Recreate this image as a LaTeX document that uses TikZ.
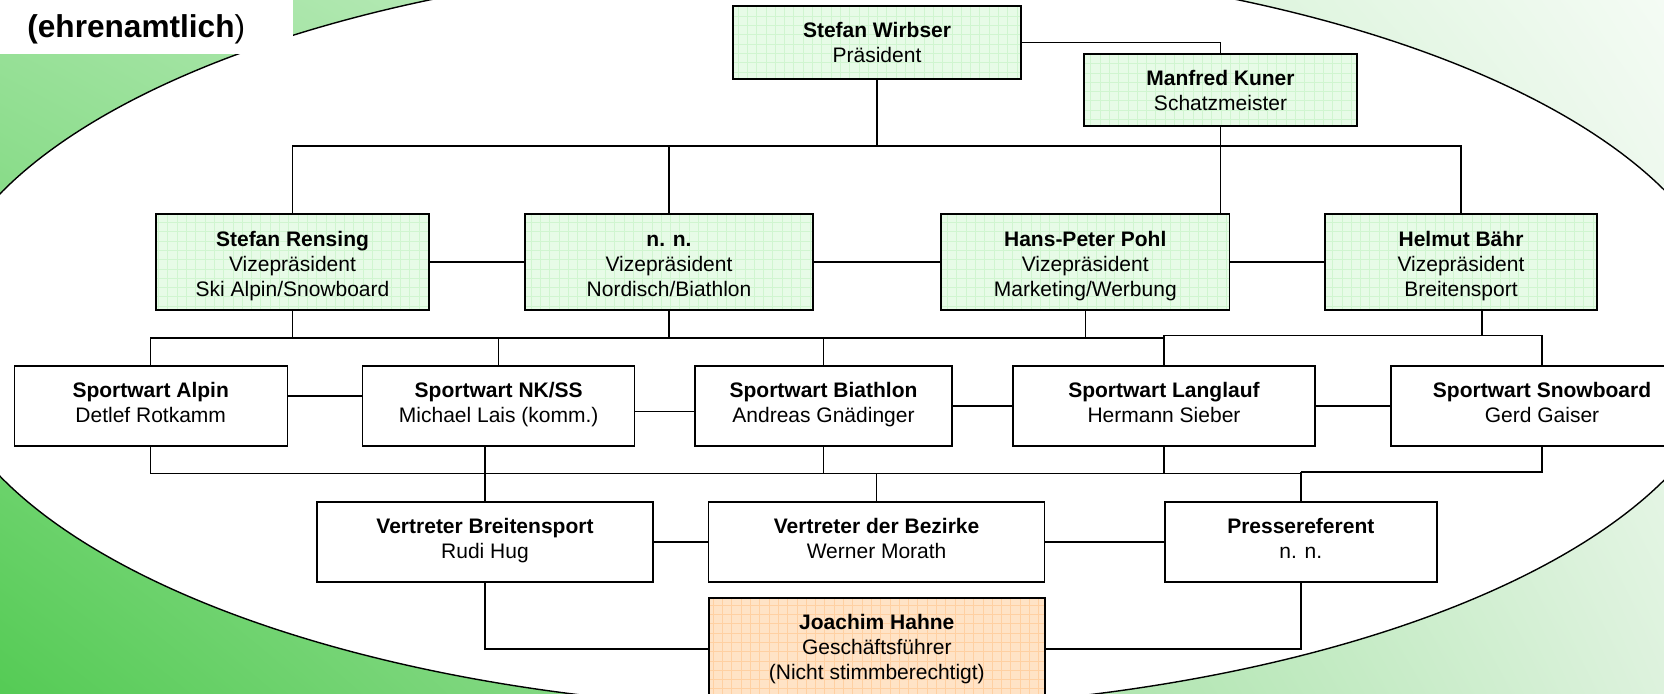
\documentclass[tikz,border=0pt]{standalone}
\usepackage{fontspec}
\setmainfont{Liberation Sans}
\usetikzlibrary{shadings}
\definecolor{boxgreen}{HTML}{E7FBE7}
\definecolor{gridgreen}{HTML}{D0F5D0}
\definecolor{boxorange}{HTML}{FFE3C6}
\definecolor{gridorange}{HTML}{FFD0A2}
\definecolor{bgdark}{HTML}{55CB55}
\definecolor{bgmid}{HTML}{9CE29C}
\definecolor{bglight}{HTML}{F4FBF4}
\definecolor{bgpale}{HTML}{DDF2DD}
\newcommand{\vptall}{\rule{0pt}{11.9pt}}
\tikzset{
  orgbox/.style={draw, line width=0.7pt, fill=white, align=center, inner sep=0pt,
    minimum height=40pt, font=\fontsize{10.5}{12.5}\selectfont},
  lowtext/.style={execute at end node={\rule[-#1]{0pt}{#1}}},
  raster/.style={path picture={\draw[#1, line width=0.25pt, step=4.65pt]
    (path picture bounding box.south west) grid (path picture bounding box.north east);}},
  vpbox/.style={orgbox, fill=boxgreen, raster=gridgreen},
  vicebox/.style={vpbox, minimum height=48pt, lowtext=2.2pt},
  swbox/.style={orgbox, lowtext=3.4pt},
  gfbox/.style={orgbox, fill=boxorange, raster=gridorange},
  link/.style={line width=0.7pt},
}
\begin{document}
\begin{tikzpicture}[x=0.5pt, y=-0.5pt]
    \useasboundingbox (0,0) rectangle (1664,693);
    \clip (0,0) rectangle (1664,693);
    \shade[upper left=bgmid, upper right=bglight, lower left=bgdark, lower right=bgpale]
      (0,0) rectangle (1664,693);
    \filldraw[fill=white, line width=0.7pt] (834,335) ellipse [x radius=450pt, y radius=187.5pt];
    \fill[white] (0,0) rectangle (293,54.3);
    \node[anchor=base west, inner sep=0pt, font=\fontsize{15.8}{19}\selectfont] (ehrenamt) at (27,37)
      {\textbf{(ehrenamtlich})};

    \node[vpbox, minimum width=144pt, minimum height=36.5pt] (praes) at (877,42.5) {\textbf{Stefan Wirbser}\\Präsident};
    \node[vpbox, minimum width=136.5pt, minimum height=36pt] (schatz) at (1220.5,90) {\textbf{Manfred Kuner}\\Schatzmeister};

    \node[vicebox, minimum width=136.5pt] (vpAlpin) at (292.5,262) {\vptall\textbf{Stefan Rensing}\\Vizepräsident\\Ski Alpin/Snowboard};
    \node[vicebox, minimum width=144pt] (vpNord) at (669,262) {\vptall\textbf{n. n.}\\Vizepräsident\\Nordisch/Biathlon};
    \node[vicebox, minimum width=144.25pt] (vpMarket) at (1085.25,262) {\vptall\textbf{Hans-Peter Pohl}\\Vizepräsident\\Marketing/Werbung};
    \node[vicebox, minimum width=136pt] (vpBreit) at (1461,262) {\vptall\textbf{Helmut Bähr}\\Vizepräsident\\Breitensport};

    \node[swbox, minimum width=136.5pt] (swAlpin) at (150.7,406) {\textbf{Sportwart Alpin}\\Detlef Rotkamm};
    \node[swbox, minimum width=136pt] (swNK) at (498.7,406) {\textbf{Sportwart NK/SS}\\Michael Lais (komm.)};
    \node[swbox, minimum width=128.5pt] (swBiath) at (823.5,406) {\textbf{Sportwart Biathlon}\\Andreas Gnädinger};
    \node[swbox, minimum width=151pt] (swLang) at (1164,406) {\textbf{Sportwart Langlauf}\\Hermann Sieber};
    \node[swbox, minimum width=151pt] (swSnow) at (1542,406) {\textbf{Sportwart Snowboard}\\Gerd Gaiser};

    \node[swbox, minimum width=168pt] (vtBreit) at (485,542) {\textbf{Vertreter Breitensport}\\Rudi Hug};
    \node[swbox, minimum width=168pt] (vtBez) at (876.6,542) {\textbf{Vertreter der Bezirke}\\Werner Morath};
    \node[swbox, minimum width=136pt] (presse) at (1300.8,542) {\textbf{Pressereferent}\\n. n.};

    \node[gfbox, minimum width=168pt, minimum height=51pt] (gf) at (876.8,649) {\textbf{Joachim Hahne}\\Geschäftsführer\\(Nicht stimmberechtigt)};

    \coordinate (bus1) at (0,146);
    \coordinate (bus2) at (0,338);
    \coordinate (bus2b) at (0,335.5);
    \coordinate (bus3) at (0,473.7);
    \coordinate (bus3b) at (0,472);

    \draw[link] (praes.east) -| (schatz.north);
    \draw[link] (praes.south) -- (praes.south |- bus1);
    \draw[link] (vpAlpin.north) |- (vpBreit.north |- bus1) -- (vpBreit.north);
    \draw[link] (vpNord.north) -- (vpNord.north |- bus1);
    \draw[link] (schatz.south) -- (schatz.south |- vpMarket.north);
    \draw[link] (vpAlpin.east) -- (vpNord.west);
    \draw[link] (vpNord.east) -- (vpMarket.west);
    \draw[link] (vpMarket.east) -- (vpBreit.west);

    \draw[link] (vpAlpin.south) -- (vpAlpin.south |- bus2);
    \draw[link] (vpNord.south) -- (vpNord.south |- bus2);
    \draw[link] (vpMarket.south) -- (vpMarket.south |- bus2);
    \draw[link] ([xshift=10.5pt]vpBreit.south) -- ++(0,25.5);
    \draw[link] (swAlpin.north) |- (swLang.north |- bus2);
    \draw[link] (swNK.north) -- (swNK.north |- bus2);
    \draw[link] (swBiath.north) -- (swBiath.north |- bus2);
    \draw[link] (swLang.north) -- (swLang.north |- bus2b) -| (swSnow.north);

    \draw[link] ([yshift=5pt]swAlpin.east) -- ([yshift=5pt]swNK.west);
    \draw[link] ([yshift=-2.85pt]swNK.east) -- ([yshift=-2.85pt]swBiath.west);
    \draw[link] (swBiath.east) -- (swLang.west);
    \draw[link] (swLang.east) -- (swSnow.west);

    \draw[link] (swAlpin.south) |- (presse.north |- bus3);
    \draw[link] (presse.north |- bus3b) -| (swSnow.south);
    \draw[link] (presse.north |- bus3b) -- (presse.north);
    \draw[link] (swNK.south -| vtBreit.north) -- (vtBreit.north);
    \draw[link] (swBiath.south) -- (swBiath.south |- bus3);
    \draw[link] (swLang.south) -- (swLang.south |- bus3);
    \draw[link] (vtBez.north) -- (vtBez.north |- bus3);

    \draw[link] (vtBreit.east) -- (vtBez.west);
    \draw[link] (vtBez.east) -- (presse.west);
    \draw[link] (vtBreit.south) |- (gf.west);
    \draw[link] (presse.south) |- (gf.east);
  \end{tikzpicture}
\end{document}
